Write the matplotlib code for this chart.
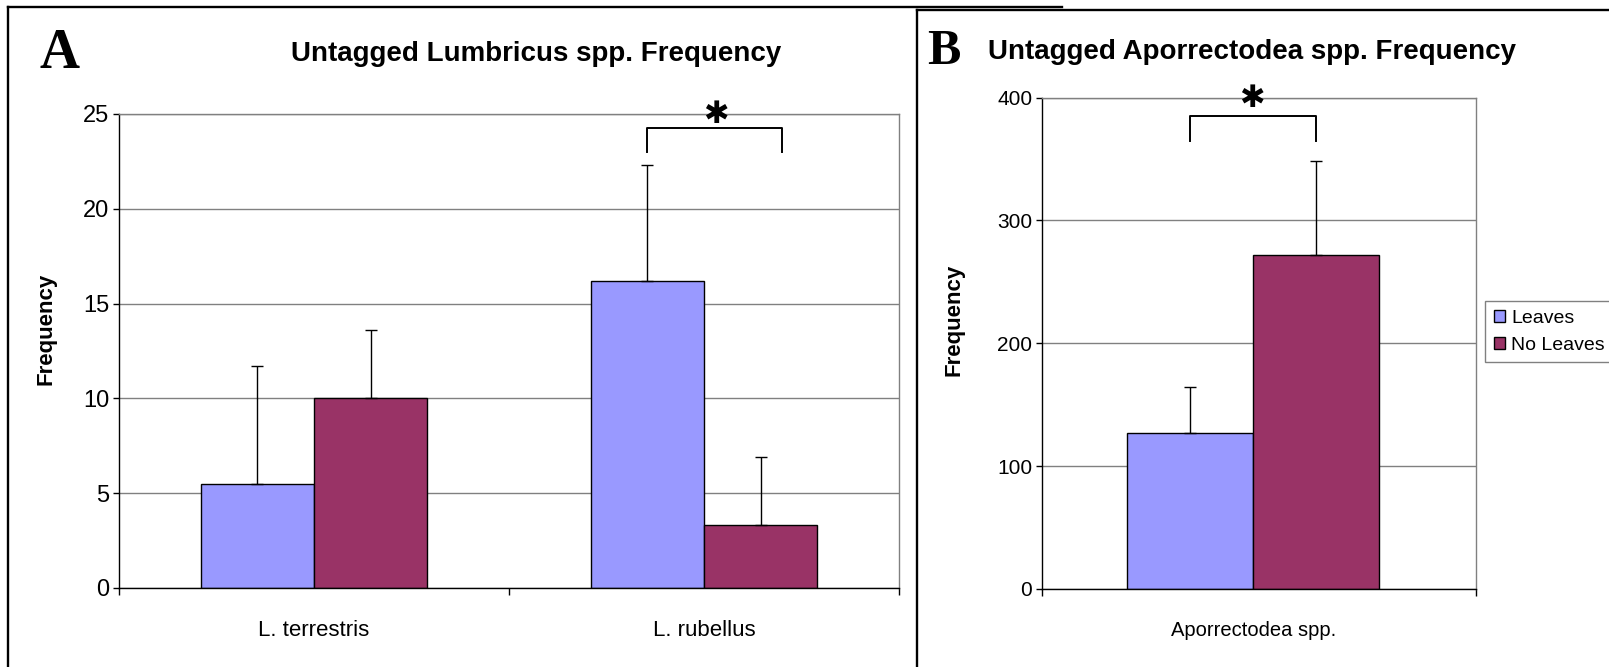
import numpy as np
import matplotlib.pyplot as plt
from matplotlib.lines import Line2D

# =========================
# Data
# =========================
lumb_species = ["L. terrestris", "L. rubellus"]
lumb_leaves = [5.5, 16.2]
lumb_no_leaves = [10.0, 3.3]
lumb_leaves_err = [6.2, 6.1]
lumb_no_leaves_err = [3.6, 3.6]

apor_species = ["Aporrectodea spp."]
apor_leaves = [127]
apor_no_leaves = [272]
apor_leaves_err = [37]
apor_no_leaves_err = [76]

series_names = ["Leaves", "No Leaves"]
colors = ["#9999FF", "#993366"]

# =========================
# Style
# =========================
plt.rcParams["font.family"] = "Liberation Sans"
W, H = 1609, 667
fig = plt.figure(figsize=(W / 100, H / 100), dpi=100)
bar_w = 0.29
grid_c = "#808080"


def fx(px):
    return px / W


def fy(py):
    return 1 - py / H


def setup_axes(ax, ymax, ystep, tick_fs, cat_fs, cats, xlim):
    n_cat = len(cats)
    ax.set_ylim(0, ymax)
    ax.set_xlim(*xlim)
    ax.set_yticks(np.arange(0, ymax + 1, ystep))
    ax.yaxis.grid(True, color=grid_c, linewidth=1.0)
    ax.set_axisbelow(True)
    ax.spines["left"].set_color("black")
    ax.spines["bottom"].set_color("black")
    ax.spines["top"].set_color(grid_c)
    ax.spines["right"].set_color(grid_c)
    for s in ax.spines.values():
        s.set_linewidth(1.0)
    ax.set_xticks(np.arange(n_cat))
    ax.set_xticklabels(cats, fontsize=cat_fs)
    ax.set_xticks(np.linspace(xlim[0], xlim[1], n_cat + 1), minor=True)
    ax.tick_params(axis="x", which="major", length=0, pad=23)
    ax.tick_params(axis="x", which="minor", length=5, width=1, color="black")
    ax.tick_params(axis="y", labelsize=tick_fs, length=4, width=1, pad=3)


def draw_bars(ax, x, lv, nl, lv_err, nl_err, capsize):
    ax.bar(x - bar_w / 2, lv, bar_w, color=colors[0], edgecolor="black",
           linewidth=1.0, label=series_names[0], zorder=2)
    ax.bar(x + bar_w / 2, nl, bar_w, color=colors[1], edgecolor="black",
           linewidth=1.0, label=series_names[1], zorder=2)
    z = np.zeros(len(x))
    ax.errorbar(x - bar_w / 2, lv, yerr=[z, lv_err], fmt="none", ecolor="black",
                elinewidth=1.0, capsize=capsize, capthick=1.0, zorder=3)
    ax.errorbar(x + bar_w / 2, nl, yerr=[z, nl_err], fmt="none", ecolor="black",
                elinewidth=1.0, capsize=capsize, capthick=1.0, zorder=3)


def bracket(ax, x0, x1, y_low, y_high, star_x, star_y, star_fs):
    ax.plot([x0, x0, x1, x1], [y_low, y_high, y_high, y_low], color="black",
            linewidth=1.4, clip_on=False, zorder=4)
    ax.text(star_x, star_y, "\u2731", family="DejaVu Sans", fontsize=star_fs,
            ha="center", va="center", clip_on=False, zorder=5)


# =========================
# Panel A
# =========================
axA = fig.add_axes([fx(119), fy(588), fx(899 - 119), (588 - 114) / H])
xA = np.arange(len(lumb_species))
draw_bars(axA, xA, lumb_leaves, lumb_no_leaves, lumb_leaves_err,
          lumb_no_leaves_err, 4.5)
setup_axes(axA, 25, 5, 17, 16, lumb_species, (-0.5, 1.5))
bracket(axA, 1 - bar_w / 2, 1.2, 23.0, 24.26, 1.03, 24.95, 22)

fig.text(fx(59), fy(54), "A", family="Liberation Serif", fontweight="bold",
         fontsize=40, ha="center", va="center")
fig.text(fx(536), fy(54), "Untagged Lumbricus spp. Frequency",
         fontweight="bold", fontsize=20, ha="center", va="center")
fig.text(fx(46), fy(329), "Frequency", rotation=90, fontweight="bold",
         fontsize=16, ha="center", va="center")

# =========================
# Panel B
# =========================
axB = fig.add_axes([fx(1042), fy(589), fx(1476 - 1042), (589 - 97.5) / H])
xB = np.arange(len(apor_species))
draw_bars(axB, xB, apor_leaves, apor_no_leaves, apor_leaves_err,
          apor_no_leaves_err, 4.5)
setup_axes(axB, 400, 100, 15, 14.5, apor_species, (-0.487, 0.513))
bracket(axB, -bar_w / 2, bar_w / 2, 365, 385, -0.003, 399, 22)

fig.text(fx(944), fy(52), "B", family="Liberation Serif", fontweight="bold",
         fontsize=36, ha="center", va="center")
fig.text(fx(1252), fy(52), "Untagged Aporrectodea spp. Frequency",
         fontweight="bold", fontsize=20, ha="center", va="center")
fig.text(fx(954), fy(320), "Frequency", rotation=90, fontweight="bold",
         fontsize=16, ha="center", va="center")

handles, labels = axB.get_legend_handles_labels()
fig.legend(handles, labels, loc="upper left",
           bbox_to_anchor=(fx(1485), fy(301)), fontsize=14, frameon=True,
           fancybox=False, edgecolor=grid_c, framealpha=1,
           handlelength=0.6, handleheight=0.6, handletextpad=0.3,
           borderpad=0.45, labelspacing=0.5, borderaxespad=0)

# =========================
# Panel frames
# =========================
frame_kw = dict(color="black", linewidth=1.7, transform=fig.transFigure)
fig.add_artist(Line2D([fx(8), fx(8)], [fy(7), 0], **frame_kw))
fig.add_artist(Line2D([fx(8), fx(1062)], [fy(7), fy(7)], **frame_kw))
fig.add_artist(Line2D([fx(917), fx(917)], [fy(10), 0], **frame_kw))
fig.add_artist(Line2D([fx(917), 1], [fy(10), fy(10)], **frame_kw))

plt.savefig("out.png", dpi=100)
